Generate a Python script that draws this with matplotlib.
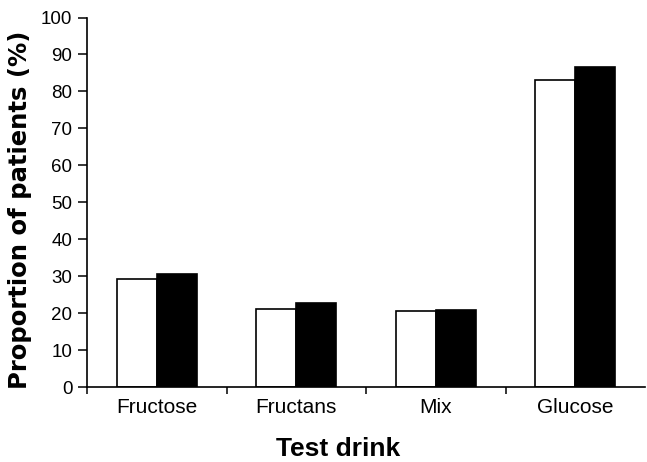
import matplotlib
matplotlib.use('Agg')
import matplotlib.pyplot as plt
import numpy as np

plt.rcParams['font.family'] = ['Liberation Sans', 'DejaVu Sans']

# 数据
drinks = ['Fructose', 'Fructans', 'Mix', 'Glucose']
open_bars = [29.3, 21.0, 20.7, 83.1]
filled_bars = [30.7, 22.8, 20.9, 86.5]

x = np.arange(len(drinks))
w = 0.287

fig = plt.figure(figsize=(6.47, 4.62), dpi=100)
ax = fig.add_axes([87 / 647, 1 - 387 / 462, 558 / 647, (387 - 17.5) / 462])

ax.bar(x - w / 2, open_bars, w, color='white', edgecolor='black', linewidth=1.2)
ax.bar(x + w / 2, filled_bars, w, color='black', edgecolor='black', linewidth=1.2)

ax.set_xlim(-0.5, 3.5)
ax.set_ylim(0, 100)
ax.set_yticks(np.arange(0, 101, 10))

# 刻度在类别之间，标签在类别中间
ax.set_xticks([-0.5, 0.5, 1.5, 2.5])
ax.set_xticklabels([])
ax.set_xticks(x, minor=True)
ax.set_xticklabels(drinks, minor=True, fontsize=15)
ax.tick_params(axis='x', which='major', direction='out', length=5, width=1.1)
ax.tick_params(axis='x', which='minor', length=0, pad=8)
ax.tick_params(axis='y', direction='out', length=6.5, width=1.1, pad=4, labelsize=13.5)

for s in ['top', 'right']:
    ax.spines[s].set_visible(False)
for s in ['left', 'bottom']:
    ax.spines[s].set_linewidth(1.2)

ax.set_ylabel('Proportion of patients (%)', fontsize=17.5, fontweight='bold',
              family=['DejaVu Sans'])
ax.yaxis.set_label_coords(-0.099, 0.479)
fig.text(338 / 647, 0.5 / 462, 'Test drink', fontsize=19, fontweight='bold',
         ha='center', va='bottom')

plt.savefig('out.png', dpi=100)
